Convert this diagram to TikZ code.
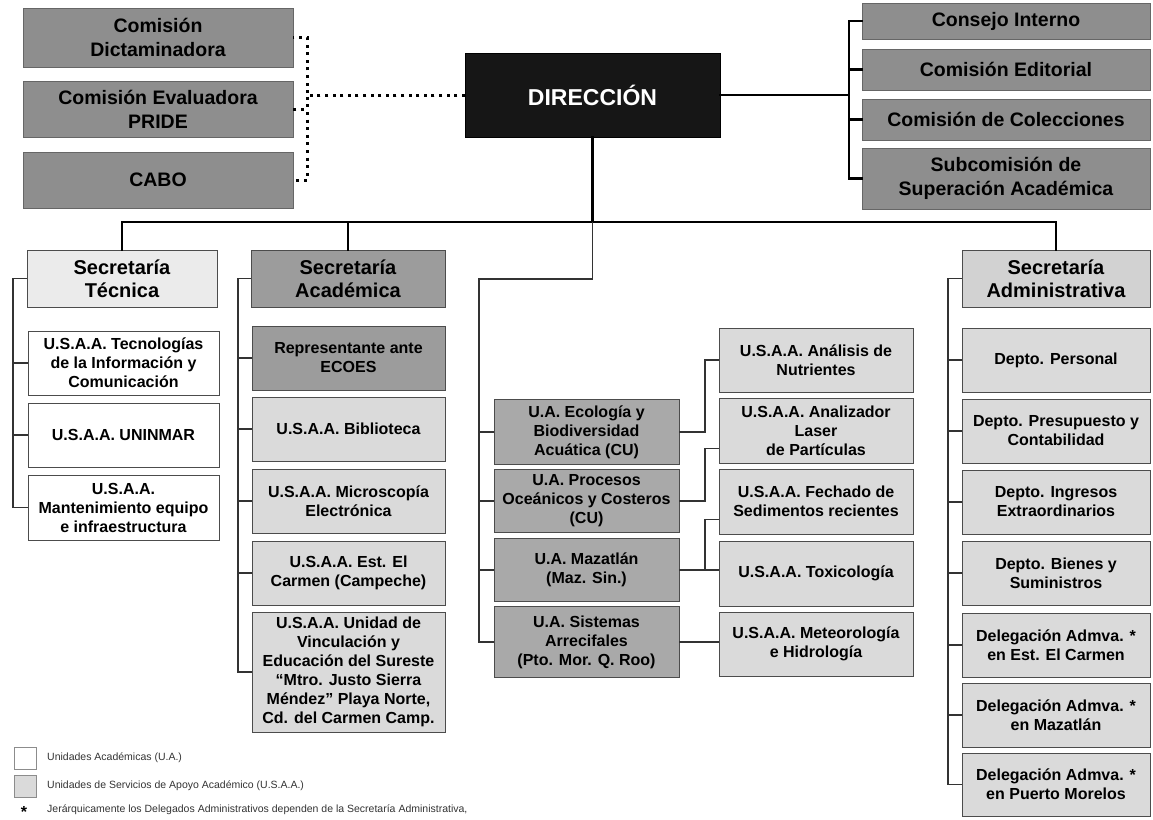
\documentclass[tikz,border=0pt]{standalone}
\usepackage{fontspec}
\setmainfont{Liberation Sans}
\definecolor{dirfill}{HTML}{161616}
\definecolor{comfill}{HTML}{8E8E8E}
\definecolor{tecfill}{HTML}{EBEBEB}
\definecolor{acafill}{HTML}{9C9C9C}
\definecolor{admfill}{HTML}{D2D2D2}
\definecolor{uafill}{HTML}{A9A9A9}
\definecolor{usfill}{HTML}{DADADA}
\tikzset{
    head/.style = {fill=dirfill,draw=black,inner sep=0,text=white,
        font=\fontsize{23}{26}\selectfont\bfseries},
    council/.style = {fill=comfill,draw=black!60,line width=0.6pt,inner sep=0,align=center,
        minimum width=270pt,font=\fontsize{19.5}{24}\selectfont\bfseries},
    secr/.style = {draw=black!70,line width=0.9pt,inner sep=0,align=center,
        minimum height=57pt,font=\fontsize{20}{23}\selectfont\bfseries},
    unit/.style = {draw=black!70,line width=0.9pt,inner sep=0,align=center,
        font=\fontsize{16}{19}\selectfont\bfseries},
    legbox/.style = {draw=black!45,line width=0.6pt,minimum size=22pt,inner sep=0},
    legtext/.style = {anchor=west,inner sep=0,text=black!80,font=\fontsize{10.5}{12}\selectfont}
}
\tikzset{
    trunk/.style = {line width=2.6pt,line cap=rect},
    branch/.style = {line width=1.2pt,draw=black!80},
    dots/.style = {line width=3pt,dash pattern=on 3pt off 4.6pt}
}

\begin{document}
\begin{tikzpicture}[x=1pt,y=-1pt]
        \useasboundingbox (0,0) rectangle (1153,819);
        % Buses
        \coordinate (bar) at (0,222);
        \coordinate (lbus) at (307,0);
        \coordinate (rbus) at (849,0);
        \coordinate (tbus) at (13,0);
        \coordinate (abus) at (238,0);
        \coordinate (ubus) at (479,279);
        \coordinate (mbus) at (705,0);
        \coordinate (dbus) at (948,0);
        % Head
        \node[head,minimum width=255pt,minimum height=84pt] (dir) at (592.5,95) {DIRECCIÓN};
        % Committees
        \node[council,minimum height=59pt] (dict) at (158,37.5) {Comisión\\Dictaminadora};
        \node[council,minimum height=56pt] (pride) at (158,109) {Comisión Evaluadora\\PRIDE};
        \node[council,minimum height=56pt] (cabo) at (158,180) {CABO};
        \node[council,minimum width=288pt,minimum height=36pt] (consejo) at (1006,21) {Consejo Interno};
        \node[council,minimum width=288pt,minimum height=41pt] (edit) at (1006,69.5) {Comisión Editorial};
        \node[council,minimum width=288pt,minimum height=41pt] (colec) at (1006,119.5) {Comisión de Colecciones};
        \node[council,minimum width=288pt,minimum height=61pt] (subcom) at (1006,178.5) {Subcomisión de\\Superación Académica};
        % Secretarias
        \node[secr,fill=tecfill,minimum width=190pt] (tec) at (122,278.5) {Secretaría\\Técnica};
        \node[secr,fill=acafill,minimum width=194pt] (aca) at (348,278.5) {Secretaría\\Académica};
        \node[secr,fill=admfill,minimum width=188pt] (adm) at (1056,278.5) {Secretaría\\Administrativa};
        % Tecnica
        \node[unit,fill=white,minimum width=191pt,minimum height=64pt] (tic) at (123.5,363) {U.S.A.A. Tecnologías\\de la Información y\\Comunicación};
        \node[unit,fill=white,minimum width=191pt,minimum height=64pt] (uninmar) at (123.5,435) {U.S.A.A. UNINMAR};
        \node[unit,fill=white,minimum width=191pt,minimum height=65pt] (mant) at (123.5,507.5) {U.S.A.A.\\Mantenimiento equipo\\e infraestructura};
        % Academica
        \node[unit,fill=acafill,minimum width=193pt,minimum height=64pt] (ecoes) at (348.5,358) {Representante ante\\ECOES};
        \node[unit,fill=usfill,minimum width=193pt,minimum height=64pt] (biblio) at (348.5,429) {U.S.A.A. Biblioteca};
        \node[unit,fill=usfill,minimum width=193pt,minimum height=64pt] (micro) at (348.5,501) {U.S.A.A. Microscopía\\Electrónica};
        \node[unit,fill=usfill,minimum width=193pt,minimum height=64pt] (carmen) at (348.5,573) {U.S.A.A. Est. El\\Carmen (Campeche)};
        \node[unit,fill=usfill,minimum width=193pt,minimum height=120pt] (vinc) at (348.5,672) {U.S.A.A. Unidad de\\Vinculación y\\Educación del Sureste\\“Mtro. Justo Sierra\\Méndez” Playa Norte,\\Cd. del Carmen Camp.};
        % Unidades academicas
        \node[unit,fill=uafill,minimum width=185pt,minimum height=65pt] (eco) at (586.5,432) {U.A. Ecología y\\Biodiversidad\\Acuática (CU)};
        \node[unit,fill=uafill,minimum width=185pt,minimum height=63pt] (proc) at (586.5,501) {U.A. Procesos\\Oceánicos y Costeros\\(CU)};
        \node[unit,fill=uafill,minimum width=185pt,minimum height=63pt] (maz) at (586.5,570) {U.A. Mazatlán\\(Maz. Sin.)};
        \node[unit,fill=uafill,minimum width=185pt,minimum height=71pt] (arrec) at (586.5,642) {U.A. Sistemas\\Arrecifales\\(Pto. Mor. Q. Roo)};
        \node[unit,fill=usfill,minimum width=194pt,minimum height=64pt] (nutr) at (816,360) {U.S.A.A. Análisis de\\Nutrientes};
        \node[unit,fill=usfill,minimum width=194pt,minimum height=65pt] (laser) at (816,430.5) {U.S.A.A. Analizador\\Laser\\de Partículas};
        \node[unit,fill=usfill,minimum width=194pt,minimum height=65pt] (sedim) at (816,501.5) {U.S.A.A. Fechado de\\Sedimentos recientes};
        \node[unit,fill=usfill,minimum width=194pt,minimum height=65pt] (toxi) at (816,573.5) {U.S.A.A. Toxicología};
        \node[unit,fill=usfill,minimum width=194pt,minimum height=64pt] (meteo) at (816,644) {U.S.A.A. Meteorología\\e Hidrología};
        % Administrativa
        \node[unit,fill=usfill,minimum width=188pt,minimum height=64pt] (pers) at (1056,360) {Depto. Personal};
        \node[unit,fill=usfill,minimum width=188pt,minimum height=64pt] (presup) at (1056,431) {Depto. Presupuesto y\\Contabilidad};
        \node[unit,fill=usfill,minimum width=188pt,minimum height=64pt] (ingr) at (1056,502) {Depto. Ingresos\\Extraordinarios};
        \node[unit,fill=usfill,minimum width=188pt,minimum height=64pt] (bienes) at (1056,573) {Depto. Bienes y\\Suministros};
        \node[unit,fill=usfill,minimum width=188pt,minimum height=64pt] (dcar) at (1056,645) {Delegación Admva. *\\en Est. El Carmen};
        \node[unit,fill=usfill,minimum width=188pt,minimum height=64pt] (dmaz) at (1056,715) {Delegación Admva. *\\en Mazatlán};
        \node[unit,fill=usfill,minimum width=188pt,minimum height=63pt] (dpmor) at (1056,784.5) {Delegación Admva. *\\en Puerto Morelos};
        % Legend
        \node[legbox,fill=white] (lua) at (25,758) {};
        \node[legbox,fill=usfill] (lus) at (25,786) {};
        \node[legtext] (tua) at (47,758) {Unidades Académicas (U.A.)};
        \node[legtext] (tus) at (47,786) {Unidades de Servicios de Apoyo Académico (U.S.A.A.)};
        \node[inner sep=0,font=\fontsize{16}{16}\selectfont\bfseries] (star) at (24,812) {*};
        \node[legtext] (tstar) at (47,810) {Jerárquicamente los Delegados Administrativos dependen de la Secretaría Administrativa,};
        % Advisory links
        \foreach \src in {dict,pride,cabo}
            \draw[dots] (dir.west) -- (dir.west -| lbus) |- (\src.east);
        \foreach \dest in {consejo,edit,colec,subcom}
            \draw[trunk] (dir.east) -- (dir.east -| rbus) |- (\dest.west);
        % Main hierarchy
        \draw[trunk] (dir.south) -- (dir.south |- bar);
        \draw[trunk] (tec.north |- bar) -- (adm.north |- bar);
        \foreach \dest in {tec,aca,adm}
            \draw[trunk] (\dest.north |- bar) -- (\dest.north);
        % Branches
        \foreach \dest in {tic,uninmar,mant}
            \draw[branch] (tec.west) -- (tec.west -| tbus) |- (\dest.west);
        \foreach \dest in {ecoes,biblio,micro,carmen,vinc}
            \draw[branch] (aca.west) -- (aca.west -| abus) |- (\dest.west);
        \foreach \dest in {pers,presup,ingr,bienes,dcar,dmaz,dpmor}
            \draw[branch] (adm.west) -- (adm.west -| dbus) |- (\dest.west);
        \foreach \dest in {eco,proc,maz,arrec}
            \draw[branch] (dir.south |- bar) |- (ubus) |- (\dest.west);
        % Support units
        \draw[branch] (eco.east) -- (eco.east -| mbus) |- (nutr.west);
        \draw[branch] (proc.east) -- (proc.east -| mbus) |- ([yshift=-18pt]laser.west);
        \draw[branch] (maz.east) -- (maz.east -| toxi.west);
        \draw[branch] (maz.east -| mbus) |- ([yshift=-18pt]sedim.west);
        \draw[branch] (arrec.east) -- (arrec.east -| meteo.west);
    \end{tikzpicture}
\end{document}
